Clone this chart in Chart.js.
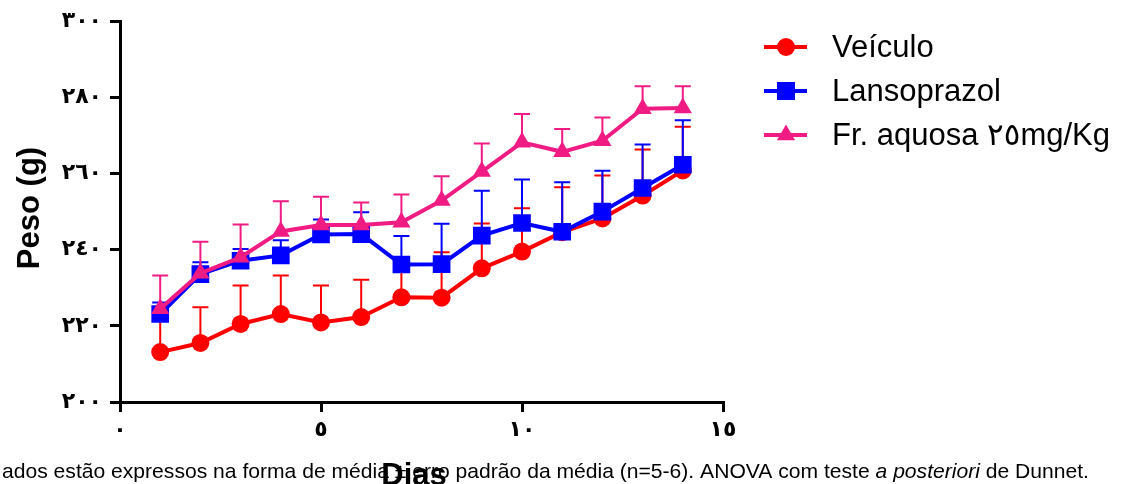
<!DOCTYPE html>
<html lang="pt">
<head>
    <meta charset="UTF-8">
    <title>Peso (g) x Dias</title>
    <script src="https://cdn.jsdelivr.net/npm/chart.js"></script>
    <style>
        body { margin: 0; background: #fff; }
        #wrap { width: 1127px; height: 484px; position: relative; overflow: hidden; }
    </style>
</head>
<body>
    <div id="wrap"><canvas id="pesoChart" width="1127" height="484"></canvas></div>

    <script>
        // dados (média e erro padrão)
        const days = [1, 2, 3, 4, 5, 6, 7, 8, 9, 10, 11, 12, 13, 14];
        const veiculo = [213.1, 215.5, 220.5, 223.1, 220.9, 222.3, 227.5, 227.4, 235.1, 239.5, 244.6, 248.2, 254.2, 260.8];
        const veiculoErr = [10.0, 9.4, 10.1, 10.1, 9.7, 9.8, 9.5, 11.9, 11.8, 11.4, 11.8, 11.3, 12.1, 11.5];
        const lansoprazol = [223.1, 233.6, 237.1, 238.5, 244.0, 244.1, 236.1, 236.2, 243.7, 247.0, 244.7, 250.0, 256.2, 262.3];
        const lansoprazolErr = [3.0, 3.1, 3.1, 4.0, 3.9, 5.7, 7.5, 10.6, 11.8, 11.4, 13.0, 10.7, 11.4, 11.7];
        const fracao = [224.5, 233.8, 238.0, 244.8, 246.5, 246.5, 247.2, 252.9, 260.5, 268.2, 265.7, 268.6, 277.0, 277.2];
        const fracaoErr = [8.7, 8.3, 8.6, 7.9, 7.4, 5.9, 7.3, 6.4, 7.4, 7.4, 6.0, 6.1, 5.9, 5.7];

        const seriesNames = ['Veículo', 'Lansoprazol', 'Fr. aquosa ٢٥mg/Kg'];
        const yTickLabels = ['٢٠٠', '٢٢٠', '٢٤٠', '٢٦٠', '٢٨٠', '٣٠٠'];
        const xTickLabels = ['٠', '٥', '١٠', '١٥'];
        const caption = ['ados estão expressos na forma de média ± erro padrão da média (n=5-6). ANOVA com teste ', 'a posteriori', ' de Dunnet.'];

        const RED = '#ff0000';
        const BLUE = '#0000ff';
        const PINK = 'rgb(240, 28, 132)';

        function pts(ys) {
            return days.map((d, i) => ({ x: d, y: ys[i] }));
        }

        // barras de erro (só para cima), desenhadas por baixo dos marcadores
        const errorBars = {
            id: 'errorBars',
            beforeDatasetDraw(chart, args) {
                const ds = chart.data.datasets[args.index];
                const ctx = chart.ctx;
                const xs = chart.scales.x, ys = chart.scales.y;
                ctx.save();
                ctx.strokeStyle = ds.borderColor;
                ctx.lineWidth = 2;
                ds.data.forEach((p, i) => {
                    const px = xs.getPixelForValue(p.x);
                    const y0 = ys.getPixelForValue(p.y);
                    const y1 = ys.getPixelForValue(p.y + ds.errors[i]);
                    ctx.beginPath();
                    ctx.moveTo(px, y0);
                    ctx.lineTo(px, y1);
                    ctx.moveTo(px - 8, y1);
                    ctx.lineTo(px + 8, y1);
                    ctx.stroke();
                });
                ctx.restore();
            }
        };

        // legenda, títulos dos eixos e nota de rodapé
        const decorations = {
            id: 'decorations',
            afterDraw(chart) {
                const ctx = chart.ctx;
                ctx.save();

                // legenda
                const rows = [47, 91, 135];
                chart.data.datasets.forEach((ds, i) => {
                    const y = rows[i];
                    ctx.strokeStyle = ds.borderColor;
                    ctx.fillStyle = ds.borderColor;
                    ctx.lineWidth = 4;
                    ctx.beginPath();
                    ctx.moveTo(764, y);
                    ctx.lineTo(807, y);
                    ctx.stroke();
                    const cx = 786;
                    ctx.beginPath();
                    if (ds.pointStyle === 'circle') {
                        ctx.arc(cx, y, 9, 0, Math.PI * 2);
                    } else if (ds.pointStyle === 'rect') {
                        ctx.rect(cx - 9, y - 9, 18, 18);
                    } else {
                        ctx.moveTo(cx, y - 10.5);
                        ctx.lineTo(cx + 9.1, y + 5.3);
                        ctx.lineTo(cx - 9.1, y + 5.3);
                        ctx.closePath();
                    }
                    ctx.fill();
                    ctx.fillStyle = '#000';
                    ctx.font = '31px "Liberation Sans", Arial, "DejaVu Sans", sans-serif';
                    ctx.textBaseline = 'middle';
                    ctx.textAlign = 'left';
                    ctx.fillText(ds.label, 832, y + 1);
                });

                // nota de rodapé
                ctx.fillStyle = '#000';
                ctx.textBaseline = 'alphabetic';
                let x = 2;
                caption.forEach((part, i) => {
                    ctx.font = (i === 1 ? 'italic ' : '') + '21.1px "Liberation Sans", Arial, sans-serif';
                    ctx.fillText(part, x, 478);
                    x += ctx.measureText(part).width;
                });

                // título do eixo x
                ctx.font = 'bold 31px "Liberation Sans", Arial, sans-serif';
                ctx.textAlign = 'center';
                ctx.fillText('Dias', 414, 485);

                // título do eixo y
                ctx.translate(39, 208);
                ctx.rotate(-Math.PI / 2);
                ctx.textBaseline = 'alphabetic';
                ctx.fillText('Peso (g)', 0, 0);
                ctx.restore();
            }
        };

        const axisBase = {
            type: 'linear',
            grid: { display: true, drawOnChartArea: false, drawTicks: true, tickLength: 10, color: '#000', lineWidth: 3 },
            border: { display: true, color: '#000', width: 3 }
        };

        new Chart(document.getElementById('pesoChart'), {
            type: 'line',
            data: {
                datasets: [{
                    label: seriesNames[0],
                    data: pts(veiculo),
                    errors: veiculoErr,
                    borderColor: RED,
                    backgroundColor: RED,
                    pointStyle: 'circle',
                    pointRadius: 9,
                    order: 3
                }, {
                    label: seriesNames[1],
                    data: pts(lansoprazol),
                    errors: lansoprazolErr,
                    borderColor: BLUE,
                    backgroundColor: BLUE,
                    pointStyle: 'rect',
                    pointRadius: 12.5,
                    order: 2
                }, {
                    label: seriesNames[2],
                    data: pts(fracao),
                    errors: fracaoErr,
                    borderColor: PINK,
                    backgroundColor: PINK,
                    pointStyle: 'triangle',
                    pointRadius: 10.5,
                    order: 1
                }]
            },
            options: {
                responsive: false,
                animation: false,
                devicePixelRatio: 1,
                layout: { padding: { top: 20, right: 404, left: 0, bottom: 0 } },
                elements: {
                    line: { borderWidth: 4, tension: 0 },
                    point: { borderWidth: 0, hoverRadius: 9 }
                },
                plugins: { legend: { display: false }, tooltip: { enabled: false } },
                scales: {
                    x: Object.assign({}, axisBase, {
                        min: 0, max: 15,
                        afterFit(scale) { scale.height = 82; },
                        ticks: {
                            stepSize: 5,
                            padding: 5,
                            color: '#000',
                            font: { family: '"DejaVu Sans", sans-serif', size: 22, weight: 'bold' },
                            callback: (v, i) => xTickLabels[i]
                        }
                    }),
                    y: Object.assign({}, axisBase, {
                        min: 200, max: 300,
                        afterFit(scale) { scale.width = 120; },
                        ticks: {
                            stepSize: 20,
                            padding: 8,
                            color: '#000',
                            font: { family: '"DejaVu Sans", sans-serif', size: 22, weight: 'bold' },
                            callback: (v, i) => yTickLabels[i]
                        }
                    })
                }
            },
            plugins: [errorBars, decorations]
        });
    </script>
</body>
</html>
